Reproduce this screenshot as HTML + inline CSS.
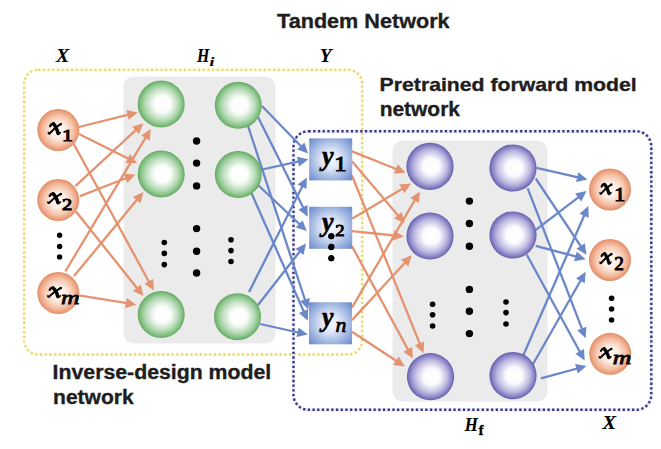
<!DOCTYPE html>
<html><head><meta charset="utf-8"><style>
html,body{margin:0;padding:0;background:#fff;width:661px;height:449px;overflow:hidden}
svg{display:block}
</style></head><body><svg width="661" height="449" viewBox="0 0 661 449"><defs>
<radialGradient id="gOr" cx="50%" cy="50%" r="50%" fx="52%" fy="52%">
 <stop offset="0" stop-color="#fffbf8"/><stop offset="0.35" stop-color="#fdeee6"/><stop offset="0.7" stop-color="#f5c3a9"/><stop offset="0.9" stop-color="#ec9f7d"/><stop offset="1" stop-color="#e28b66"/></radialGradient>
<radialGradient id="gGr" cx="50%" cy="50%" r="50%" fx="54%" fy="50%">
 <stop offset="0" stop-color="#ffffff"/><stop offset="0.35" stop-color="#fbfdfb"/><stop offset="0.7" stop-color="#b6dab6"/><stop offset="0.9" stop-color="#80bf80"/><stop offset="1" stop-color="#63a563"/></radialGradient>
<radialGradient id="gPu" cx="50%" cy="50%" r="50%" fx="54%" fy="50%">
 <stop offset="0" stop-color="#ffffff"/><stop offset="0.35" stop-color="#fbfbfe"/><stop offset="0.7" stop-color="#bcb8e0"/><stop offset="0.9" stop-color="#8680c4"/><stop offset="1" stop-color="#645dab"/></radialGradient>
<radialGradient id="gSq" cx="50%" cy="50%" r="72%">
 <stop offset="0" stop-color="#f8faff"/><stop offset="0.3" stop-color="#dfe7f7"/><stop offset="1" stop-color="#6184ca"/></radialGradient>
</defs><rect width="661" height="449" fill="#fff"/><rect x="123.5" y="76.5" width="152" height="267" rx="10" fill="#ebebeb"/><rect x="392.5" y="140.5" width="155" height="261" rx="10" fill="#ebebeb"/><rect x="24.2" y="69.8" width="338" height="284.7" rx="14" fill="none" stroke="#fefce4" stroke-width="3.6"/><rect x="24.2" y="69.8" width="338" height="284.7" rx="14" fill="none" stroke="#e6d672" stroke-width="2.3" stroke-dasharray="2.1 2.6"/><rect x="293.5" y="131.3" width="357.8" height="278.5" rx="15" fill="none" stroke="#ecedf8" stroke-width="3.6"/><rect x="293.5" y="131.3" width="357.8" height="278.5" rx="15" fill="none" stroke="#35367f" stroke-width="2.4" stroke-dasharray="2.3 2.4"/><line x1="79.0" y1="127.0" x2="128.5" y2="114.7" stroke="#e3936f" stroke-width="2.3"/><polygon points="137.7,112.4 128.7,119.8 126.3,110.1" fill="#e3936f"/><line x1="75.4" y1="186.1" x2="136.3" y2="129.7" stroke="#e3936f" stroke-width="2.3"/><polygon points="143.3,123.2 139.0,134.0 132.2,126.7" fill="#e3936f"/><line x1="65.3" y1="271.5" x2="145.9" y2="137.2" stroke="#e3936f" stroke-width="2.3"/><polygon points="150.8,129.1 149.7,140.7 141.1,135.5" fill="#e3936f"/><line x1="79.0" y1="134.0" x2="128.6" y2="158.8" stroke="#e3936f" stroke-width="2.3"/><polygon points="137.1,163.1 125.5,162.9 130.0,153.9" fill="#e3936f"/><line x1="80.0" y1="196.1" x2="126.5" y2="178.0" stroke="#e3936f" stroke-width="2.3"/><polygon points="135.4,174.6 127.4,183.1 123.8,173.7" fill="#e3936f"/><line x1="74.0" y1="276.1" x2="137.4" y2="199.3" stroke="#e3936f" stroke-width="2.3"/><polygon points="143.4,192.0 140.6,203.3 132.9,196.9" fill="#e3936f"/><line x1="73.8" y1="144.0" x2="149.2" y2="282.2" stroke="#e3936f" stroke-width="2.3"/><polygon points="153.8,290.5 144.4,283.7 153.2,278.9" fill="#e3936f"/><line x1="76.0" y1="211.5" x2="137.5" y2="288.7" stroke="#e3936f" stroke-width="2.3"/><polygon points="143.4,296.1 132.9,291.0 140.8,284.8" fill="#e3936f"/><line x1="79.0" y1="295.3" x2="126.9" y2="303.2" stroke="#e3936f" stroke-width="2.3"/><polygon points="136.3,304.8 125.1,308.0 126.8,298.1" fill="#e3936f"/><line x1="352.0" y1="151.4" x2="396.8" y2="169.3" stroke="#e3936f" stroke-width="2.3"/><polygon points="405.6,172.8 394.0,173.6 397.7,164.3" fill="#e3936f"/><line x1="352.0" y1="218.7" x2="402.8" y2="188.4" stroke="#e3936f" stroke-width="2.3"/><polygon points="411.0,183.5 404.5,193.2 399.4,184.6" fill="#e3936f"/><line x1="352.0" y1="307.6" x2="415.1" y2="199.7" stroke="#e3936f" stroke-width="2.3"/><polygon points="419.9,191.5 418.9,203.1 410.3,198.0" fill="#e3936f"/><line x1="352.0" y1="161.2" x2="398.5" y2="216.0" stroke="#e3936f" stroke-width="2.3"/><polygon points="404.7,223.2 394.1,218.4 401.7,212.0" fill="#e3936f"/><line x1="352.0" y1="231.2" x2="394.3" y2="235.5" stroke="#e3936f" stroke-width="2.3"/><polygon points="403.8,236.5 392.8,240.4 393.9,230.5" fill="#e3936f"/><line x1="352.0" y1="320.1" x2="405.4" y2="262.3" stroke="#e3936f" stroke-width="2.3"/><polygon points="411.8,255.3 408.4,266.4 401.0,259.6" fill="#e3936f"/><line x1="352.0" y1="175.5" x2="420.0" y2="344.4" stroke="#e3936f" stroke-width="2.3"/><polygon points="423.5,353.2 414.9,345.3 424.2,341.6" fill="#e3936f"/><line x1="352.0" y1="246.3" x2="408.3" y2="350.1" stroke="#e3936f" stroke-width="2.3"/><polygon points="412.8,358.5 403.4,351.7 412.2,346.9" fill="#e3936f"/><line x1="352.0" y1="331.7" x2="396.9" y2="361.3" stroke="#e3936f" stroke-width="2.3"/><polygon points="404.8,366.5 393.3,364.9 398.8,356.5" fill="#e3936f"/><line x1="262.0" y1="106.0" x2="301.5" y2="146.7" stroke="#6a87c9" stroke-width="2.3"/><polygon points="308.1,153.5 297.2,149.4 304.4,142.5" fill="#6a87c9"/><line x1="260.0" y1="170.0" x2="299.0" y2="161.4" stroke="#6a87c9" stroke-width="2.3"/><polygon points="308.3,159.3 299.1,166.5 297.0,156.7" fill="#6a87c9"/><line x1="249.0" y1="292.0" x2="302.5" y2="186.0" stroke="#6a87c9" stroke-width="2.3"/><polygon points="306.8,177.5 306.5,189.1 297.6,184.6" fill="#6a87c9"/><line x1="258.0" y1="117.0" x2="303.5" y2="208.2" stroke="#6a87c9" stroke-width="2.3"/><polygon points="307.7,216.7 298.5,209.5 307.5,205.1" fill="#6a87c9"/><line x1="258.0" y1="185.0" x2="299.9" y2="224.5" stroke="#6a87c9" stroke-width="2.3"/><polygon points="306.8,231.0 295.7,227.4 302.6,220.2" fill="#6a87c9"/><line x1="258.0" y1="305.0" x2="300.1" y2="251.1" stroke="#6a87c9" stroke-width="2.3"/><polygon points="306.0,243.6 303.5,255.0 295.6,248.8" fill="#6a87c9"/><line x1="248.0" y1="126.0" x2="305.2" y2="300.5" stroke="#6a87c9" stroke-width="2.3"/><polygon points="308.2,309.5 300.2,301.1 309.7,298.0" fill="#6a87c9"/><line x1="251.0" y1="192.0" x2="304.0" y2="312.0" stroke="#6a87c9" stroke-width="2.3"/><polygon points="307.8,320.7 299.0,313.1 308.1,309.1" fill="#6a87c9"/><line x1="260.0" y1="324.0" x2="298.5" y2="332.5" stroke="#6a87c9" stroke-width="2.3"/><polygon points="307.8,334.5 296.5,337.1 298.6,327.4" fill="#6a87c9"/><line x1="536.6" y1="167.8" x2="578.1" y2="177.3" stroke="#6a87c9" stroke-width="2.3"/><polygon points="587.4,179.4 576.1,181.9 578.3,172.2" fill="#6a87c9"/><line x1="534.8" y1="230.7" x2="579.0" y2="196.8" stroke="#6a87c9" stroke-width="2.3"/><polygon points="586.5,191.0 581.2,201.4 575.1,193.4" fill="#6a87c9"/><line x1="523.0" y1="356.0" x2="584.5" y2="214.8" stroke="#6a87c9" stroke-width="2.3"/><polygon points="588.3,206.1 588.7,217.7 579.5,213.7" fill="#6a87c9"/><line x1="535.7" y1="178.5" x2="581.2" y2="246.9" stroke="#6a87c9" stroke-width="2.3"/><polygon points="586.5,254.8 576.5,248.8 584.8,243.3" fill="#6a87c9"/><line x1="535.7" y1="245.8" x2="576.4" y2="256.7" stroke="#6a87c9" stroke-width="2.3"/><polygon points="585.6,259.2 574.2,261.3 576.8,251.6" fill="#6a87c9"/><line x1="532.5" y1="365.0" x2="580.9" y2="280.0" stroke="#6a87c9" stroke-width="2.3"/><polygon points="585.6,271.7 584.8,283.3 576.1,278.4" fill="#6a87c9"/><line x1="527.7" y1="188.3" x2="582.2" y2="329.4" stroke="#6a87c9" stroke-width="2.3"/><polygon points="585.6,338.3 577.2,330.3 586.5,326.7" fill="#6a87c9"/><line x1="526.8" y1="254.8" x2="580.1" y2="352.3" stroke="#6a87c9" stroke-width="2.3"/><polygon points="584.7,360.6 575.3,353.8 584.0,349.0" fill="#6a87c9"/><line x1="541.0" y1="378.4" x2="577.3" y2="368.5" stroke="#6a87c9" stroke-width="2.3"/><polygon points="586.5,366.0 577.7,373.6 575.1,363.9" fill="#6a87c9"/><circle cx="161.2" cy="104" r="23.5" fill="url(#gGr)"/><circle cx="161.2" cy="174" r="23.5" fill="url(#gGr)"/><circle cx="161.2" cy="314.5" r="23.5" fill="url(#gGr)"/><circle cx="238.3" cy="105.3" r="23.5" fill="url(#gGr)"/><circle cx="238.3" cy="174.5" r="23.5" fill="url(#gGr)"/><circle cx="237.5" cy="316.7" r="23.5" fill="url(#gGr)"/><circle cx="430" cy="166.4" r="23.6" fill="url(#gPu)"/><circle cx="430" cy="236" r="23.6" fill="url(#gPu)"/><circle cx="430.5" cy="376.7" r="23.6" fill="url(#gPu)"/><circle cx="513" cy="168" r="23.6" fill="url(#gPu)"/><circle cx="513" cy="235" r="23.6" fill="url(#gPu)"/><circle cx="513" cy="375.6" r="23.6" fill="url(#gPu)"/><circle cx="58.3" cy="130" r="21" fill="url(#gOr)"/><circle cx="58.3" cy="200" r="21" fill="url(#gOr)"/><circle cx="58.3" cy="293" r="21" fill="url(#gOr)"/><circle cx="610" cy="189.5" r="21" fill="url(#gOr)"/><circle cx="610" cy="260" r="21" fill="url(#gOr)"/><circle cx="610.2" cy="353.8" r="21" fill="url(#gOr)"/><rect x="309.2" y="138.4" width="43" height="42" fill="url(#gSq)"/><rect x="309.2" y="206.8" width="43" height="42" fill="url(#gSq)"/><rect x="309" y="302.3" width="43" height="42" fill="url(#gSq)"/><circle cx="59.6" cy="235.3" r="2.7" fill="#000"/><circle cx="59.6" cy="246.4" r="2.7" fill="#000"/><circle cx="59.6" cy="256.9" r="2.7" fill="#000"/><circle cx="196.6" cy="141" r="3.7" fill="#000"/><circle cx="196.6" cy="163.1" r="3.7" fill="#000"/><circle cx="196.6" cy="185.9" r="3.7" fill="#000"/><circle cx="196.6" cy="228.6" r="3.7" fill="#000"/><circle cx="196.6" cy="251.2" r="3.7" fill="#000"/><circle cx="196.6" cy="273" r="3.7" fill="#000"/><circle cx="164.3" cy="242.5" r="2.8" fill="#000"/><circle cx="164.3" cy="253.4" r="2.8" fill="#000"/><circle cx="164.3" cy="264.6" r="2.8" fill="#000"/><circle cx="231" cy="239.7" r="2.8" fill="#000"/><circle cx="231" cy="250.6" r="2.8" fill="#000"/><circle cx="231" cy="261.5" r="2.8" fill="#000"/><circle cx="331.2" cy="236.3" r="3" fill="#000"/><circle cx="331.2" cy="247.3" r="3" fill="#000"/><circle cx="331.2" cy="258.2" r="3" fill="#000"/><circle cx="469.4" cy="201.1" r="3.7" fill="#000"/><circle cx="469.4" cy="223.5" r="3.7" fill="#000"/><circle cx="469.4" cy="246.2" r="3.7" fill="#000"/><circle cx="469.4" cy="289.4" r="3.7" fill="#000"/><circle cx="469.4" cy="311.3" r="3.7" fill="#000"/><circle cx="469.4" cy="333.6" r="3.7" fill="#000"/><circle cx="432.6" cy="304.2" r="2.8" fill="#000"/><circle cx="432.6" cy="314.7" r="2.8" fill="#000"/><circle cx="432.6" cy="326" r="2.8" fill="#000"/><circle cx="506" cy="302" r="2.8" fill="#000"/><circle cx="506" cy="312.6" r="2.8" fill="#000"/><circle cx="506" cy="324" r="2.8" fill="#000"/><circle cx="611.6" cy="298.3" r="2.8" fill="#000"/><circle cx="611.6" cy="309" r="2.8" fill="#000"/><circle cx="611.6" cy="320" r="2.8" fill="#000"/><g transform="translate(48.48,122.73) scale(0.877,0.903)" fill="none" stroke="#000" stroke-linecap="round"><path d="M1.9,3.8 Q3.2,0.6 6.2,1.1" stroke-width="2.6"/><path d="M5.6,1.3 Q9.0,4.5 11.0,12.0" stroke-width="3.9"/><path d="M11.0,12.0 Q12.2,12.8 13.6,10.9" stroke-width="1.8"/><path d="M14.2,1.3 Q7.2,5.3 1.2,12.0" stroke-width="2.3"/><path d="M1.2,12.0 Q-0.2,12.8 -0.1,10.9" stroke-width="1.8"/><circle cx="13.9" cy="1.7" r="1.4" fill="#000" stroke="none"/></g><text transform="translate(62.05,140.80) scale(1.267,1)" font-family="Liberation Serif" font-weight="normal" font-style="normal" font-size="17.27" fill="#000" stroke="#000" stroke-width="0.95">1</text><g transform="translate(48.01,192.69) scale(0.908,0.848)" fill="none" stroke="#000" stroke-linecap="round"><path d="M1.9,3.8 Q3.2,0.6 6.2,1.1" stroke-width="2.6"/><path d="M5.6,1.3 Q9.0,4.5 11.0,12.0" stroke-width="3.9"/><path d="M11.0,12.0 Q12.2,12.8 13.6,10.9" stroke-width="1.8"/><path d="M14.2,1.3 Q7.2,5.3 1.2,12.0" stroke-width="2.3"/><path d="M1.2,12.0 Q-0.2,12.8 -0.1,10.9" stroke-width="1.8"/><circle cx="13.9" cy="1.7" r="1.4" fill="#000" stroke="none"/></g><text transform="translate(61.88,209.53) scale(1.175,1)" font-family="Liberation Serif" font-weight="normal" font-style="normal" font-size="17.42" fill="#000" stroke="#000" stroke-width="0.95">2</text><g transform="translate(48.01,286.78) scale(0.908,0.828)" fill="none" stroke="#000" stroke-linecap="round"><path d="M1.9,3.8 Q3.2,0.6 6.2,1.1" stroke-width="2.6"/><path d="M5.6,1.3 Q9.0,4.5 11.0,12.0" stroke-width="3.9"/><path d="M11.0,12.0 Q12.2,12.8 13.6,10.9" stroke-width="1.8"/><path d="M14.2,1.3 Q7.2,5.3 1.2,12.0" stroke-width="2.3"/><path d="M1.2,12.0 Q-0.2,12.8 -0.1,10.9" stroke-width="1.8"/><circle cx="13.9" cy="1.7" r="1.4" fill="#000" stroke="none"/></g><text transform="translate(61.07,304.30) scale(1.317,1)" font-family="Liberation Serif" font-weight="normal" font-style="italic" font-size="19.57" fill="#000" stroke="#000" stroke-width="0.75">m</text><g transform="translate(600.10,183.30) scale(0.804,0.862)" fill="none" stroke="#000" stroke-linecap="round"><path d="M1.9,3.8 Q3.2,0.6 6.2,1.1" stroke-width="2.6"/><path d="M5.6,1.3 Q9.0,4.5 11.0,12.0" stroke-width="3.9"/><path d="M11.0,12.0 Q12.2,12.8 13.6,10.9" stroke-width="1.8"/><path d="M14.2,1.3 Q7.2,5.3 1.2,12.0" stroke-width="2.3"/><path d="M1.2,12.0 Q-0.2,12.8 -0.1,10.9" stroke-width="1.8"/><circle cx="13.9" cy="1.7" r="1.4" fill="#000" stroke="none"/></g><text transform="translate(614.25,200.80) scale(1.204,1)" font-family="Liberation Serif" font-weight="normal" font-style="normal" font-size="18.18" fill="#000" stroke="#000" stroke-width="0.95">1</text><g transform="translate(600.10,252.71) scale(0.804,0.869)" fill="none" stroke="#000" stroke-linecap="round"><path d="M1.9,3.8 Q3.2,0.6 6.2,1.1" stroke-width="2.6"/><path d="M5.6,1.3 Q9.0,4.5 11.0,12.0" stroke-width="3.9"/><path d="M11.0,12.0 Q12.2,12.8 13.6,10.9" stroke-width="1.8"/><path d="M14.2,1.3 Q7.2,5.3 1.2,12.0" stroke-width="2.3"/><path d="M1.2,12.0 Q-0.2,12.8 -0.1,10.9" stroke-width="1.8"/><circle cx="13.9" cy="1.7" r="1.4" fill="#000" stroke="none"/></g><text transform="translate(614.13,270.00) scale(0.972,1)" font-family="Liberation Serif" font-weight="normal" font-style="normal" font-size="19.85" fill="#000" stroke="#000" stroke-width="0.95">2</text><g transform="translate(599.35,347.68) scale(0.853,0.828)" fill="none" stroke="#000" stroke-linecap="round"><path d="M1.9,3.8 Q3.2,0.6 6.2,1.1" stroke-width="2.6"/><path d="M5.6,1.3 Q9.0,4.5 11.0,12.0" stroke-width="3.9"/><path d="M11.0,12.0 Q12.2,12.8 13.6,10.9" stroke-width="1.8"/><path d="M14.2,1.3 Q7.2,5.3 1.2,12.0" stroke-width="2.3"/><path d="M1.2,12.0 Q-0.2,12.8 -0.1,10.9" stroke-width="1.8"/><circle cx="13.9" cy="1.7" r="1.4" fill="#000" stroke="none"/></g><text transform="translate(612.77,364.10) scale(1.393,1)" font-family="Liberation Serif" font-weight="normal" font-style="italic" font-size="18.51" fill="#000" stroke="#000" stroke-width="0.75">m</text><text transform="translate(321.90,165.38) scale(0.922,1)" font-family="Liberation Serif" font-weight="bold" font-style="italic" font-size="28.21" fill="#000" stroke="#000" stroke-width="0.6">y</text><text transform="translate(334.13,171.30) scale(1.185,1)" font-family="Liberation Serif" font-weight="normal" font-style="normal" font-size="20.76" fill="#000" stroke="#000" stroke-width="0.95">1</text><text transform="translate(321.90,231.35) scale(0.984,1)" font-family="Liberation Serif" font-weight="bold" font-style="italic" font-size="26.42" fill="#000" stroke="#000" stroke-width="0.6">y</text><text transform="translate(335.35,236.23) scale(1.089,1)" font-family="Liberation Serif" font-weight="normal" font-style="normal" font-size="17.27" fill="#000" stroke="#000" stroke-width="0.95">2</text><text transform="translate(321.98,326.36) scale(0.945,1)" font-family="Liberation Serif" font-weight="bold" font-style="italic" font-size="27.31" fill="#000" stroke="#000" stroke-width="0.6">y</text><text transform="translate(335.52,331.60) scale(1.009,1)" font-family="Liberation Serif" font-weight="normal" font-style="italic" font-size="21.70" fill="#000" stroke="#000" stroke-width="0.75">n</text><circle cx="331.4" cy="236.2" r="3" fill="#000"/><circle cx="331.4" cy="246.8" r="3" fill="#000"/><circle cx="331.4" cy="258.2" r="3" fill="#000"/><text transform="translate(55.99,61.90) scale(1.017,1)" font-family="Liberation Serif" font-weight="bold" font-style="italic" font-size="19.38" fill="#000" stroke="#000" stroke-width="0.15">X</text><text transform="translate(196.96,61.90) scale(0.822,1)" font-family="Liberation Serif" font-weight="bold" font-style="italic" font-size="19.23" fill="#000" stroke="#000" stroke-width="0.15">H</text><text transform="translate(209.38,66.10) scale(1.312,1)" font-family="Liberation Serif" font-weight="bold" font-style="italic" font-size="13.33" fill="#000" stroke="#000" stroke-width="0.1">i</text><text transform="translate(319.73,62.10) scale(0.992,1)" font-family="Liberation Serif" font-weight="bold" font-style="italic" font-size="19.54" fill="#000" stroke="#000" stroke-width="0.15">Y</text><text transform="translate(464.67,431.40) scale(0.925,1)" font-family="Liberation Serif" font-weight="bold" font-style="italic" font-size="18.15" fill="#000" stroke="#000" stroke-width="0.15">H</text><text transform="translate(478.76,435.14) scale(1.023,1)" font-family="Liberation Serif" font-weight="bold" font-style="normal" font-size="13.62" fill="#000" stroke="#000" stroke-width="0.45">f</text><text transform="translate(602.61,428.70) scale(1.081,1)" font-family="Liberation Serif" font-weight="bold" font-style="italic" font-size="18.77" fill="#000" stroke="#000" stroke-width="0.15">X</text><text transform="translate(277.08,28.10) scale(1.059,1)" font-family="Liberation Sans" font-weight="bold" font-size="20.41" fill="#1e1e1e" stroke="#1e1e1e" stroke-width="0.35">Tandem Network</text><text transform="translate(379.61,91.20) scale(1.107,1)" font-family="Liberation Sans" font-weight="bold" font-size="19.18" fill="#1e1e1e" stroke="#1e1e1e" stroke-width="0.35">Pretrained forward model</text><text transform="translate(379.63,116.30) scale(1.041,1)" font-family="Liberation Sans" font-weight="bold" font-size="20.14" fill="#1e1e1e" stroke="#1e1e1e" stroke-width="0.35">network</text><text transform="translate(52.61,379.00) scale(1.056,1)" font-family="Liberation Sans" font-weight="bold" font-size="20.14" fill="#1e1e1e" stroke="#1e1e1e" stroke-width="0.35">Inverse-design model</text><text transform="translate(53.03,404.00) scale(1.031,1)" font-family="Liberation Sans" font-weight="bold" font-size="20.41" fill="#1e1e1e" stroke="#1e1e1e" stroke-width="0.35">network</text></svg></body></html>
